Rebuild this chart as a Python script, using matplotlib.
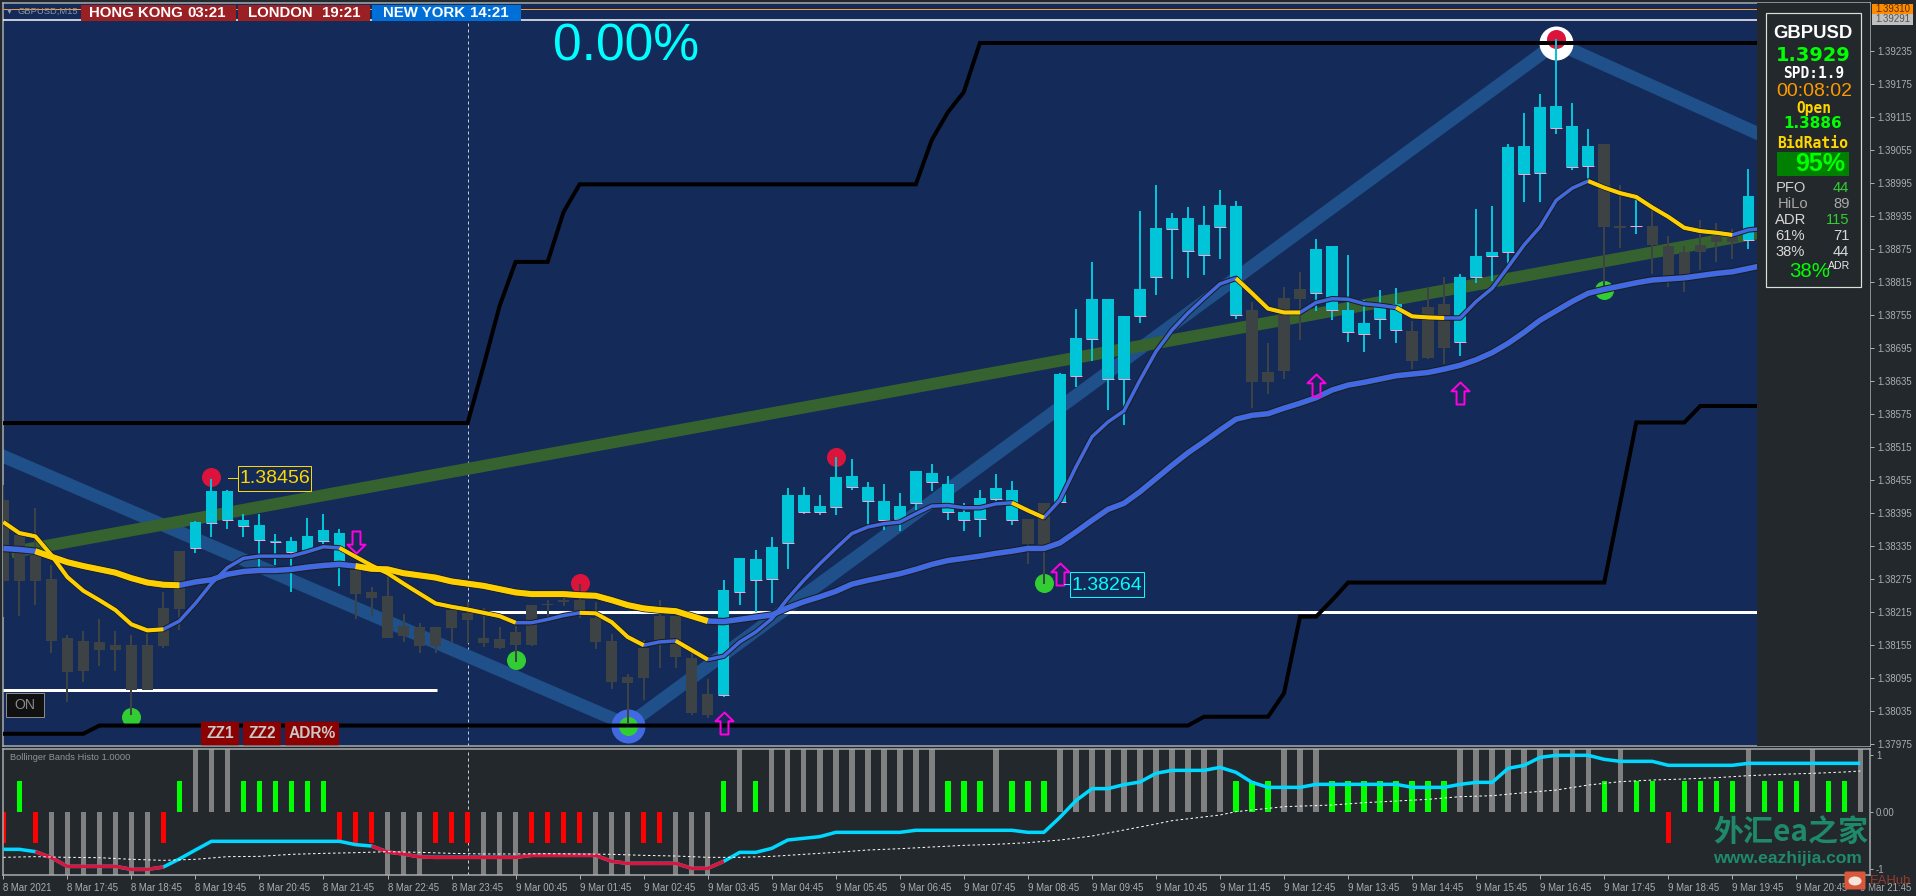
import numpy as np
import matplotlib
matplotlib.use('Agg')
import matplotlib.pyplot as plt
from matplotlib.patches import Rectangle, FancyBboxPatch, Ellipse
from matplotlib.path import Path

plt.rcParams['font.family'] = ['Liberation Sans', 'DejaVu Sans']

W, H = 1916, 896
PT = 1e-5  # prices below are stored in points

NAVY = '#142A59'
DARK = '#23282C'
AXIS = '#A9AEB0'
CYAN = '#00C4D8'
CANDLE_DARK = '#3D4244'
ROYAL = '#4169E1'
GOLD = '#FFD000'

# candles, one per 15 minute bar
candle_open = [
    138418, 138354, 138332, 138274, 138168, 138161, 138159, 138154, 138154, 138154,
    138221, 138325, 138331, 138377, 138382, 138371, 138345, 138342, 138324, 138325,
    138344, 138308, 138290, 138250, 138243, 138189, 138188, 138188, 138218, 138213,
    138168, 138166, 138178, 138228, 138229, 138237, 138236, 138204, 138161, 138096,
    138149, 138207, 138207, 138130, 138065, 138064, 138251, 138273, 138275, 138339,
    138396, 138396, 138405, 138442, 138416, 138381, 138383, 138412, 138451, 138396,
    138382, 138384, 138420, 138382, 138383, 138412, 138415, 138643, 138711, 138638,
    138638, 138752, 138823, 138910, 138870, 138863, 138915, 138755, 138764, 138651,
    138786, 138802, 138795, 138764, 138723, 138719, 138748, 138728, 138726, 138769,
    138775, 138705, 138824, 138861, 138869, 139011, 139013, 139095, 139024, 139026,
    139066, 138917, 138916, 138916, 138880, 138869, 138881, 138898, 138896, 138891]
candle_close = [
    138270, 138270, 138270, 138162, 138105, 138108, 138145, 138145, 138072, 138073,
    138152, 138219, 138378, 138434, 138434, 138381, 138372, 138344, 138344, 138352,
    138363, 138358, 138247, 138240, 138168, 138170, 138152, 138152, 138185, 138199,
    138158, 138149, 138154, 138154, 138228, 138232, 138215, 138160, 138087, 138085,
    138095, 138163, 138133, 138030, 138027, 138254, 138312, 138310, 138332, 138428,
    138428, 138407, 138459, 138461, 138441, 138416, 138407, 138470, 138468, 138448,
    138396, 138421, 138439, 138436, 138338, 138336, 138647, 138712, 138784, 138784,
    138753, 138802, 138913, 138931, 138931, 138918, 138955, 138953, 138632, 138632,
    138653, 138784, 138875, 138880, 138764, 138740, 138770, 138775, 138671, 138676,
    138695, 138824, 138862, 138869, 139060, 139062, 139132, 139134, 139098, 139062,
    138914, 138912, 138917, 138882, 138824, 138824, 138869, 138888, 138888, 138971]
candle_high = [
    138445, 138354, 138404, 138299, 138173, 138179, 138201, 138179, 138172, 138175,
    138250, 138325, 138379, 138456, 138437, 138392, 138392, 138357, 138351, 138386,
    138393, 138365, 138302, 138259, 138279, 138210, 138195, 138188, 138224, 138233,
    138221, 138188, 138189, 138228, 138237, 138242, 138266, 138233, 138175, 138101,
    138163, 138237, 138208, 138139, 138092, 138273, 138313, 138328, 138350, 138439,
    138441, 138428, 138496, 138493, 138450, 138448, 138430, 138470, 138483, 138462,
    138412, 138437, 138466, 138453, 138383, 138412, 138649, 138765, 138850, 138784,
    138753, 138944, 138991, 138939, 138950, 138953, 138982, 138962, 138778, 138703,
    138805, 138833, 138893, 138880, 138863, 138782, 138800, 138804, 138744, 138805,
    138824, 138829, 138947, 138953, 139066, 139121, 139157, 139257, 139140, 139092,
    139066, 138991, 138969, 138948, 138898, 138880, 138927, 138921, 138910, 139020]
candle_low = [
    138205, 138207, 138228, 138140, 138051, 138087, 138116, 138107, 138027, 138072,
    138149, 138182, 138322, 138350, 138365, 138351, 138296, 138300, 138251, 138321,
    138338, 138262, 138201, 138208, 138168, 138160, 138140, 138140, 138158, 138158,
    138151, 138148, 138124, 138152, 138205, 138225, 138203, 138148, 138075, 138012,
    138054, 138113, 138113, 138027, 138021, 138060, 138227, 138215, 138231, 138293,
    138393, 138390, 138390, 138436, 138373, 138364, 138361, 138399, 138435, 138381,
    138361, 138350, 138416, 138373, 138301, 138266, 138412, 138624, 138670, 138581,
    138555, 138740, 138790, 138819, 138821, 138827, 138857, 138748, 138586, 138611,
    138638, 138709, 138761, 138746, 138706, 138688, 138711, 138703, 138657, 138675,
    138666, 138680, 138812, 138817, 138842, 138959, 138959, 139084, 139018, 139002,
    138800, 138877, 138902, 138829, 138806, 138796, 138836, 138851, 138856, 138874]

# moving averages
slow_ma = [
    138330, 138328, 138325, 138315, 138305, 138298, 138292, 138286, 138276, 138268,
    138264, 138263, 138269, 138273, 138283, 138288, 138290, 138290, 138292, 138296,
    138299, 138301, 138298, 138293, 138292, 138285, 138281, 138277, 138270, 138266,
    138262, 138256, 138250, 138247, 138247, 138247, 138245, 138244, 138236, 138227,
    138221, 138218, 138216, 138207, 138198, 138197, 138201, 138205, 138209, 138222,
    138233, 138242, 138252, 138265, 138272, 138278, 138284, 138292, 138301, 138308,
    138312, 138316, 138321, 138325, 138330, 138330, 138340, 138360, 138381, 138401,
    138412, 138433, 138457, 138481, 138504, 138524, 138545, 138565, 138572, 138575,
    138585, 138594, 138604, 138618, 138627, 138632, 138638, 138644, 138647, 138650,
    138656, 138663, 138673, 138686, 138703, 138723, 138745, 138762, 138779, 138794,
    138801, 138807, 138813, 138818, 138820, 138822, 138826, 138830, 138833, 138839, 138845]
fast_ma = [
    138378, 138358, 138352, 138318, 138278, 138253, 138236, 138218, 138192, 138181,
    138183, 138198, 138230, 138266, 138295, 138312, 138316, 138316, 138316, 138324,
    138333, 138331, 138315, 138299, 138285, 138266, 138248, 138230, 138224, 138219,
    138213, 138207, 138195, 138195, 138201, 138208, 138213, 138212, 138196, 138169,
    138154, 138160, 138162, 138145, 138128, 138134, 138160, 138178, 138202, 138239,
    138272, 138302, 138330, 138357, 138369, 138375, 138378, 138393, 138407, 138408,
    138404, 138404, 138411, 138413, 138399, 138386, 138418, 138478, 138533, 138560,
    138580, 138636, 138688, 138727, 138758, 138785, 138811, 138821, 138794, 138766,
    138759, 138759, 138777, 138784, 138783, 138775, 138772, 138768, 138752, 138750,
    138749, 138749, 138779, 138803, 138842, 138882, 138915, 138963, 138985, 138998,
    138986, 138976, 138969, 138950, 138933, 138913, 138907, 138904, 138900, 138909, 138912]
slow_gold_spans = [(2, 11), (22, 44)]
fast_gold_spans = [(0, 10), (21, 32), (36, 40), (42, 44), (63, 65), (77, 81), (87, 90), (99, 108)]

# black channel
upper_bars = [0, 29, 30, 31, 32, 34, 35, 36, 57, 58, 59, 60, 61, 110]
upper_vals = [138558, 138558, 138662, 138771, 138851, 138851, 138942, 138992, 138992,
              139073, 139123, 139160, 139249, 139249]
lower_bars = [0, 5, 6, 74, 75, 79, 80, 81, 82, 83, 84, 100, 101, 102, 105, 106, 110]
lower_vals = [137993, 137993, 138008, 138008, 138024, 138024, 138067, 138206, 138206,
              138236, 138268, 138268, 138413, 138559, 138559, 138589, 138589]

# zigzag and trend bands
zigzag_bars = [-1, 39, 97, 112]
zigzag_vals = [138510, 138009, 139249, 139053]
trend_bars = [0.5, 112]
trend_vals = [138323, 138916]

# signal dots
red_dot_bars = [13, 36, 52, 97]
red_dot_vals = [138460, 138267, 138497, 139257]
green_dot_bars = [8, 32, 39, 65, 100]
green_dot_vals = [138024, 138128, 138007, 138268, 138800]

# arrows
up_arrow_bars = [45, 66, 82, 91]
up_arrow_vals = [138013, 138283, 138628, 138613]
down_arrow_bars = [22]
down_arrow_vals = [138342]

# histogram pane
G, R, U, D = 0.55, -0.55, 1.2, -1.2
histo_vals = [
    R, G, R, D, D, D, D, D, D, D, R, G, U, U, U, G, G, G, G, G,
    G, R, R, R, D, D, D, R, R, R, D, D, D, R, R, R, R, D, D, D,
    R, R, D, D, D, G, U, G, U, U, U, U, U, U, U, U, U, U, U, G,
    G, G, U, G, G, G, U, U, U, U, U, U, U, U, U, U, U, G, G, G,
    U, U, U, G, G, G, G, G, G, G, G, U, U, U, U, U, U, U, U, U,
    G, U, G, G, R, G, G, G, G, U, G, G, G, U, G, G, U]
signal_vals = [
    -0.657, -0.657, -0.698, -0.803, -0.957, -0.957, -0.957, -0.957, -1.01, -1.01,
    -0.968, -0.827, -0.669, -0.516, -0.516, -0.516, -0.516, -0.516, -0.516, -0.516,
    -0.516, -0.516, -0.575, -0.599, -0.704, -0.739, -0.792, -0.798, -0.798, -0.798,
    -0.798, -0.798, -0.798, -0.763, -0.763, -0.763, -0.763, -0.763, -0.869, -0.904,
    -0.904, -0.904, -0.904, -0.992, -0.992, -0.869, -0.71, -0.71, -0.64, -0.493,
    -0.463, -0.434, -0.358, -0.358, -0.358, -0.358, -0.358, -0.322, -0.322, -0.322,
    -0.322, -0.322, -0.322, -0.322, -0.358, -0.358, -0.094, 0.2, 0.411, 0.411,
    0.482, 0.528, 0.681, 0.733, 0.733, 0.733, 0.786, 0.698, 0.522, 0.434,
    0.434, 0.434, 0.487, 0.487, 0.487, 0.487, 0.487, 0.487, 0.434, 0.434,
    0.434, 0.487, 0.522, 0.522, 0.769, 0.822, 0.962, 0.998, 0.998, 0.998,
    0.927, 0.892, 0.892, 0.892, 0.822, 0.822, 0.822, 0.822, 0.822, 0.857,
    0.857, 0.857, 0.857, 0.857, 0.857, 0.857, 0.857]
signal_red_spans = [(2, 10), (23, 45)]
dotted_bars = [0, 2, 4, 6, 8, 10, 12, 14, 16, 18, 20, 22, 24, 26, 28, 30, 32, 34, 36, 38,
               40, 42, 44, 46, 48, 50, 52, 54, 56, 58, 60, 62, 64, 66, 68, 70, 72, 73, 76, 77,
               79, 80, 83, 85, 87, 89, 91, 93, 95, 97, 99, 101, 103, 105, 107, 109, 111, 113, 115, 116]
dotted_vals = [-0.798, -0.786, -0.798, -0.804, -0.833, -0.851, -0.833, -0.786, -0.781, -0.745,
               -0.728, -0.716, -0.698, -0.71, -0.728, -0.739, -0.739, -0.734, -0.739, -0.745,
               -0.763, -0.775, -0.798, -0.798, -0.781, -0.745, -0.71, -0.669, -0.646, -0.616,
               -0.587, -0.569, -0.54, -0.493, -0.423, -0.317, -0.211, -0.153, -0.053, 0.006,
               0.064, 0.094, 0.123, 0.164, 0.193, 0.223, 0.27, 0.287, 0.34, 0.387,
               0.475, 0.534, 0.563, 0.581, 0.604, 0.64, 0.663, 0.681, 0.704, 0.722]

# axis labels
price_ticks = [1.39235, 1.39175, 1.39115, 1.39055, 1.38995, 1.38935, 1.38875, 1.38815, 1.38755,
               1.38695, 1.38635, 1.38575, 1.38515, 1.38455, 1.38395, 1.38335, 1.38275, 1.38215,
               1.38155, 1.38095, 1.38035, 1.37975]
time_labels = ['8 Mar 2021', '8 Mar 17:45', '8 Mar 18:45', '8 Mar 19:45', '8 Mar 20:45',
               '8 Mar 21:45', '8 Mar 22:45', '8 Mar 23:45', '9 Mar 00:45', '9 Mar 01:45',
               '9 Mar 02:45', '9 Mar 03:45', '9 Mar 04:45', '9 Mar 05:45', '9 Mar 06:45',
               '9 Mar 07:45', '9 Mar 08:45', '9 Mar 09:45', '9 Mar 10:45', '9 Mar 11:45',
               '9 Mar 12:45', '9 Mar 13:45', '9 Mar 14:45', '9 Mar 15:45', '9 Mar 16:45',
               '9 Mar 17:45', '9 Mar 18:45', '9 Mar 19:45', '9 Mar 20:45', '9 Mar 21:45']


def px(n):
    # screen pixels to points at dpi 100
    return n * 0.72


def pane(left, top, right, bottom):
    return fig.add_axes([left / W, 1 - bottom / H, (right - left) / W, (bottom - top) / H])


def ma_line(ax, values, gold_spans, inner, outer):
    y = np.array(values) * PT
    x = np.arange(len(y))
    ax.plot(x, y, color='#1C1C1C', lw=px(outer), zorder=5, solid_capstyle='butt')
    ax.plot(x, y, color=ROYAL, lw=px(inner), zorder=5.1, solid_capstyle='butt')
    for a, b in gold_spans:
        ax.plot(x[a:b + 1], y[a:b + 1], color=GOLD, lw=px(inner + 0.5), zorder=5.2, solid_capstyle='butt')


fig = plt.figure(figsize=(W / 100, H / 100), dpi=100, facecolor=DARK)

# ---- price pane
ax = pane(2.5, 3, 1870, 746)
ax.set_facecolor(NAVY)
ax.set_xlim(-0.05, 116.6)
ax.set_ylim(1.379708, 1.393217)
ax.axvspan(109.54, 116.6, color=DARK, lw=0, zorder=8)

bars = np.arange(len(candle_open))
c_open = np.array(candle_open) * PT
c_close = np.array(candle_close) * PT
c_high = np.array(candle_high) * PT
c_low = np.array(candle_low) * PT
is_up = c_close >= c_open

ax.plot(zigzag_bars, np.array(zigzag_vals) * PT, color='#1F5089', lw=px(13), zorder=2, solid_capstyle='butt')
ax.plot(trend_bars, np.array(trend_vals) * PT, color='#36622F', lw=px(12), zorder=2.1, solid_capstyle='butt')

ax.plot([39], [138007 * PT], 'o', color=ROYAL, ms=px(34), mew=0, zorder=2.5)
ax.plot([97], [139249 * PT], 'o', color='white', ms=px(34), mew=0, zorder=2.5)
ax.plot(red_dot_bars, np.array(red_dot_vals) * PT, 'o', color='#DC143C', ms=px(19), mew=0, ls='', zorder=3)
ax.plot(green_dot_bars, np.array(green_dot_vals) * PT, 'o', color='#32CD32', ms=px(19), mew=0, ls='', zorder=3)

ax.plot(upper_bars, np.array(upper_vals) * PT, color='black', lw=px(4), zorder=3.5, solid_joinstyle='miter')
ax.plot(lower_bars, np.array(lower_vals) * PT, color='black', lw=px(4), zorder=3.5, solid_joinstyle='miter')
ax.hlines(1.38072, 0, 27.1, color='white', lw=px(3), zorder=3.4)
ax.hlines(1.38214, 30, 110, color='white', lw=px(3), zorder=3.4)
ax.hlines(1.39291, 0, 110, color='white', lw=px(1.5), zorder=3.4)
ax.hlines(1.39310, 0, 110, color='#FF9A2E', lw=px(1), zorder=3.4)
ax.axvline(29, color='#C4CCD4', lw=px(1), ls=(0, (3, 3)), zorder=1.5)

colors = np.where(is_up, CYAN, CANDLE_DARK)
ax.vlines(bars, c_low, c_high, colors=colors, lw=px(2), zorder=4)
ax.bar(bars, np.abs(c_close - c_open), bottom=np.minimum(c_open, c_close), width=0.72,
       color=colors, lw=0, zorder=4.1)
ax.hlines(c_open[is_up], bars[is_up] - 0.36, bars[is_up] + 0.36, color='#F4A6D0', lw=px(1), zorder=4.2)

ma_line(ax, slow_ma, slow_gold_spans, 5.5, 7.5)
ma_line(ax, fast_ma, fast_gold_spans, 3.5, 5.5)

arrow = Path([(-0.36, -1), (0.36, -1), (0.36, 0.2), (0.82, 0.2), (0, 1), (-0.82, 0.2), (-0.36, 0.2), (-0.36, -1)], closed=True)
arrow_down = Path(arrow.vertices * np.array([1, -1]), closed=True)
ax.plot(up_arrow_bars, np.array(up_arrow_vals) * PT, ls='', marker=arrow, ms=px(22), mfc='none',
        mec='#FF00E0', mew=px(2), zorder=6)
ax.plot(down_arrow_bars, np.array(down_arrow_vals) * PT, ls='', marker=arrow_down, ms=px(22), mfc='none',
        mec='#FF00E0', mew=px(2), zorder=6)

ax.set_yticks(price_ticks)
ax.set_yticklabels(['%.5f' % p for p in price_ticks])
ax.yaxis.tick_right()
ax.tick_params(axis='y', length=px(4), width=px(1), color=AXIS, labelcolor=AXIS, labelsize=px(9.6), pad=px(3))
ax.set_xticks([])
for s in ax.spines.values():
    s.set_color(AXIS)
    s.set_linewidth(px(1.5))

# ---- histogram pane
hx = pane(2.5, 748.5, 1870, 875)
hx.set_facecolor(DARK)
hx.set_xlim(-0.05, 116.6)
hx.set_ylim(-1.109, 1.118)
h_vals = np.array(histo_vals)
h_colors = np.where(np.abs(h_vals) > 1, '#808080', np.where(h_vals > 0, '#00FF00', '#FF0000'))
hx.bar(np.arange(len(h_vals)), h_vals, width=0.34, color=h_colors, lw=0, zorder=2)
hx.axvline(29, color='#C4CCD4', lw=px(1), ls=(0, (3, 3)), zorder=1.5)

sig = np.array(signal_vals)
sig_x = np.arange(len(sig))
hx.plot(sig_x, sig, color='#00D8FF', lw=px(3.5), zorder=3, solid_capstyle='butt')
for a, b in signal_red_spans:
    hx.plot(sig_x[a:b + 1], sig[a:b + 1], color='#DC143C', lw=px(3.5), zorder=3.1, solid_capstyle='butt')
hx.plot(dotted_bars, dotted_vals, color='white', lw=px(1), ls=(0, (2.5, 2.5)), zorder=3.2)

hx.set_yticks([1, 0, -1])
hx.set_yticklabels(['1', '0.00', '-1'])
hx.yaxis.tick_right()
hx.tick_params(axis='y', length=px(3), width=px(1), color=AXIS, labelcolor=AXIS, labelsize=px(9.6), pad=px(3))
hx.set_xticks(np.arange(0, 117, 4))
hx.set_xticklabels(time_labels, ha='left')
hx.tick_params(axis='x', length=px(4), width=px(1), color=AXIS, labelcolor=AXIS, labelsize=px(9.6), pad=px(4))
for s in hx.spines.values():
    s.set_color(AXIS)
    s.set_linewidth(px(1.5))

# ---- everything that sits on the screen, not on the scales
ui = fig.add_axes([0, 0, 1, 1], zorder=20)
ui.set_xlim(0, W)
ui.set_ylim(H, 0)
ui.axis('off')


def box(x0, y0, x1, y1, fc, ec='none', lw=0):
    ui.add_patch(Rectangle((x0, y0), x1 - x0, y1 - y0, fc=fc, ec=ec, lw=lw))


def label(x, y, s, size, color, ha='left', weight='normal', family=None, alpha=None):
    kw = {'family': family} if family else {}
    ui.text(x, y, s, fontsize=px(size), color=color, ha=ha, va='center', fontweight=weight, alpha=alpha, **kw)


MONO = ['DejaVu Sans Mono']
VERD = ['DejaVu Sans']

# header strip
ui.plot([9], [11], 'v', color='#9A9A9A', ms=px(5), mew=0)
label(18, 11.5, 'GBPUSD,M15', 9.4, '#8E9498')
box(81, 5, 236, 20.7, '#9B2023')
box(238, 5, 370, 20.7, '#9B2023')
box(372, 5, 521, 20.7, '#0070D8')
label(89, 13, 'HONG KONG', 15, 'white', weight='bold')
label(187, 13, '03:21', 15, 'white', weight='bold')
label(248, 13, 'LONDON', 15, 'white', weight='bold')
label(322, 13, '19:21', 15, 'white', weight='bold')
label(383, 13, 'NEW YORK', 15, 'white', weight='bold')
label(470.5, 13, '14:21', 15, 'white', weight='bold')
label(553, 47, '0.00%', 51.5, '#00FFFF')

# current price tags
box(1872, 4, 1913, 14.3, '#FF8C00')
label(1892.5, 9.5, '1.39310', 9.6, '#5A3000', ha='center')
box(1872, 14.3, 1913, 24.6, '#C0C0C0')
label(1892.5, 19.5, '1.39291', 9.6, '#555555', ha='center')

# high and low tags
box(238, 466, 311, 490.7, 'none', ec='#FFD700', lw=px(1))
ui.plot([228, 238], [478, 478], color='#FFD700', lw=px(1))
label(274.5, 478.5, '1.38456', 19.5, '#FFD700', ha='center')
box(1070, 572, 1144, 597, 'none', ec='#00FFFF', lw=px(1))
ui.plot([1064, 1070], [584, 584], color='#00FFFF', lw=px(1))
label(1107, 585, '1.38264', 19.5, '#00FFFF', ha='center')

# buttons
box(6.5, 693, 44, 716.7, '#111111', ec='#8A8A8A', lw=px(1))
label(25, 705, 'ON', 14, '#8A8A8A', ha='center')
for x0, x1, name in [(201, 239, 'ZZ1'), (243, 281, 'ZZ2'), (285, 339, 'ADR%')]:
    ui.add_patch(FancyBboxPatch((x0 + 1, 722.7), x1 - x0 - 2, 21.6, boxstyle='round,pad=1', fc='#8B0000', ec='none'))
    label((x0 + x1) / 2, 734, name, 15.5, '#C8C8C8', ha='center', weight='bold')

# info panel
box(1766, 13.3, 1860.7, 287.3, DARK, ec='#D8E0D8', lw=px(1.2))
label(1813, 33.5, 'GBPUSD', 18.5, 'white', ha='center', weight='bold')
label(1813, 55.5, '1.3929', 19.4, '#00FF00', ha='center', weight='bold', family=VERD)
label(1814, 73.7, 'SPD:1.9', 14.5, 'white', ha='center', weight='bold', family=MONO)
label(1814, 92, '00:08:02', 19.5, '#FF9900', ha='center')
label(1814, 108.5, 'Open', 14.5, '#FFD700', ha='center', weight='bold', family=MONO)
label(1813, 124, '1.3886', 15.3, '#00FF00', ha='center', weight='bold', family=VERD)
label(1813, 143.3, 'BidRatio', 14.8, '#FFD700', ha='center', weight='bold', family=MONO)
box(1777, 152, 1849, 175.7, '#007F00')
label(1795.5, 164, '95%', 25, '#00FF00', weight='bold')
label(1775.3, 187.7, 'PFO', 14.8, '#D0D0D0')
label(1849.3, 187.7, '44', 14.8, '#32CD32', ha='right')
label(1778, 203.7, 'HiLo', 14.8, '#A9A9A9')
label(1849.3, 203.7, '89', 14.8, '#A9A9A9', ha='right')
label(1775.3, 219.7, 'ADR', 14.8, '#D8D8D8')
label(1849.3, 219.7, '115', 14.8, '#32CD32', ha='right')
label(1775.3, 235.7, '61%', 14.8, '#D8D8D8')
label(1849.3, 235.7, '71', 14.8, '#D8D8D8', ha='right')
label(1775.3, 251.7, '38%', 14.8, '#D8D8D8')
label(1849.3, 251.7, '44', 14.8, '#D8D8D8', ha='right')
label(1788.7, 271.7, '38%', 20.5, '#00FF00')
label(1827.7, 265.7, 'ADR', 10.5, '#E8E8E8')

# histogram title and watermark
label(10, 757, 'Bollinger Bands Histo 1.0000', 9.3, '#8E9498')
label(1713, 832, '外汇ea之家', 30, '#1F8A6A', weight='bold', family=['Noto Sans CJK SC', 'DejaVu Sans'])
label(1713, 858, 'www.eazhijia.com', 17.5, '#1F8A6A', weight='bold')
ui.add_patch(FancyBboxPatch((1846, 873), 18, 15, boxstyle='round,pad=1.5', fc='#D9573A', ec='none'))
ui.add_patch(Ellipse((1855, 881), 13, 9, fc='#F5E6DC', ec='none'))
label(1870, 881, 'EAHub', 13, '#B04030', alpha=0.8)

fig.savefig('out.png', dpi=100, facecolor=fig.get_facecolor())
